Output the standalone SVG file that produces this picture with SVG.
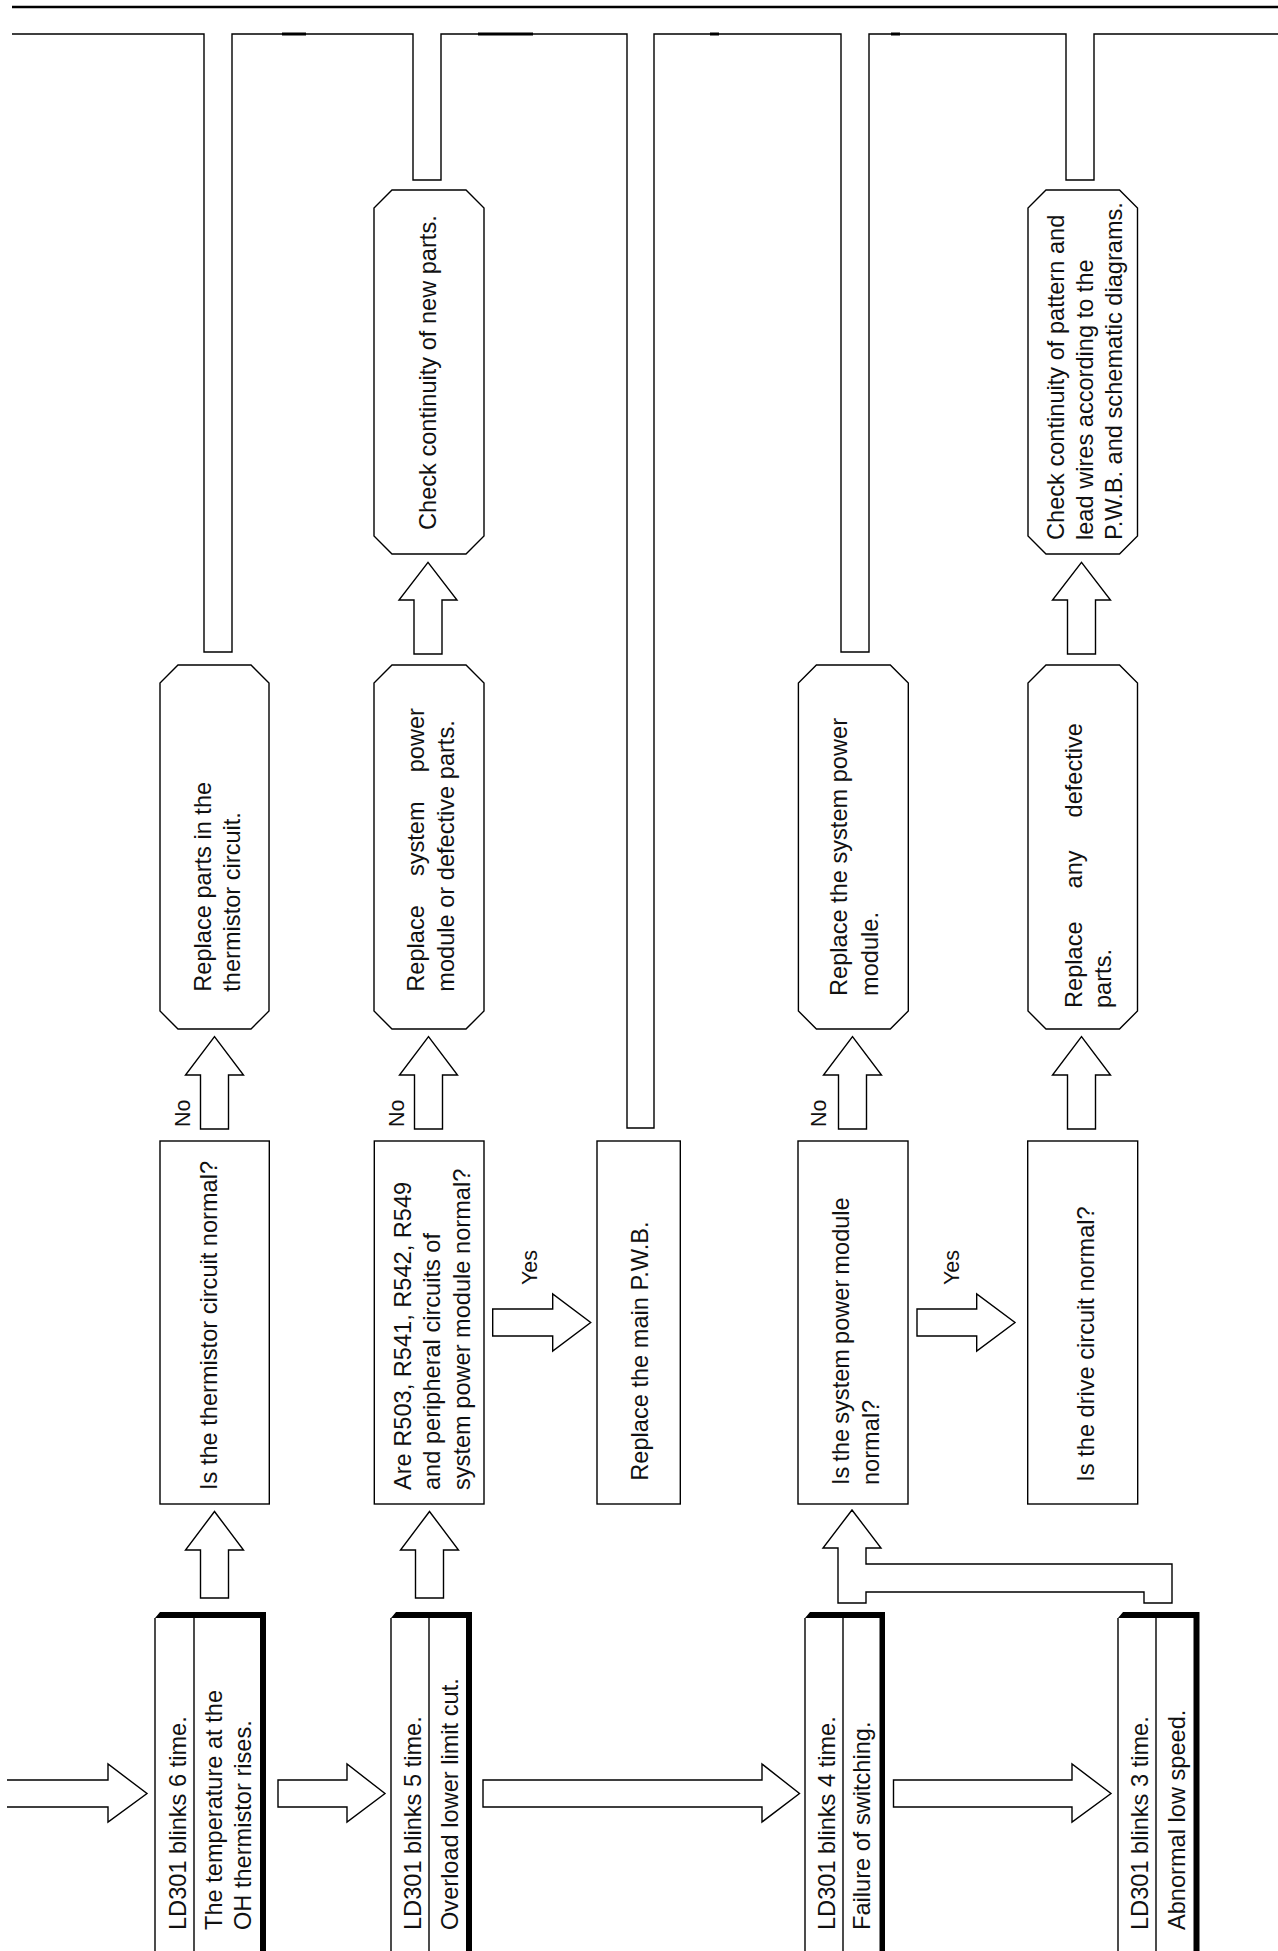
<svg xmlns="http://www.w3.org/2000/svg" width="1278" height="1951" viewBox="0 0 1278 1951">
<style>
  .ln { fill: none; stroke: #000; stroke-width: 1.4; stroke-linejoin: miter; }
  .bx { fill: #fff; stroke: #000; stroke-width: 1.4; }
  .thk { fill: #000; stroke: none; }
  .t { font-family: "Liberation Sans", Arial, sans-serif; font-size: 23.6px; fill: #111; }
  .lb { font-family: "Liberation Sans", Arial, sans-serif; font-size: 21.5px; fill: #111; }
</style>
<rect x="0" y="0" width="1278" height="1951" fill="#fff"/>

<!-- top rule -->
<line x1="12" y1="7" x2="1278" y2="7" stroke="#000" stroke-width="2.4"/>

<g id="connectors">
  <!-- return pipe network -->
  <path class="ln" d="M12,34 H204 V652 H232 V34 H413 V180 H441 V34 H627 V1128 H654 V34 H841 V652 H869 V34 H1066 V180 H1094 V34 H1278"/>
  <g stroke="#000" stroke-width="3">
    <line x1="282" y1="34" x2="306" y2="34"/>
    <line x1="478" y1="34" x2="533" y2="34"/>
    <line x1="710" y1="34" x2="719" y2="34"/>
    <line x1="891" y1="34" x2="900" y2="34"/>
  </g>
  <!-- horizontal arrows between LED nodes -->
  <path class="ln" d="M7,1780 H108 V1764 L147,1793.5 L108,1822 V1807 H7"/>
  <path class="bx" d="M278,1780 H347 V1764 L385,1793.5 L347,1822 V1807 H278 Z"/>
  <path class="bx" d="M483,1780 H762 V1764 L799.5,1793.5 L762,1822 V1807 H483 Z"/>
  <path class="bx" d="M893.5,1780 H1072 V1764 L1111,1793.5 L1072,1822 V1807 H893.5 Z"/>
  <!-- up arrows from LED nodes to questions -->
  <path class="bx" d="M200.5,1598 V1550 H185.5 L214.5,1511.5 L243.5,1550 H228.5 V1598 Z"/>
  <path class="bx" d="M415.5,1598 V1550 H400.5 L429.5,1511.5 L458.5,1550 H443.5 V1598 Z"/>
  <path class="bx" d="M838,1603 V1548 H823 L852,1510 L881,1548 H866 V1564 H1172 V1603 H1144 V1592 H866 V1603 Z"/>
  <!-- Yes arrows -->
  <path class="bx" d="M492.7,1309 H552.7 V1294 L590.7,1322.5 L552.7,1351 V1336 H492.7 Z"/>
  <path class="bx" d="M917,1309 H976.7 V1294 L1015,1322.5 L976.7,1351 V1336 H917 Z"/>
  <!-- No arrows -->
  <path class="bx" d="M200.5,1129 V1075 H185.5 L214.5,1036.7 L243.5,1075 H228.5 V1129 Z"/>
  <path class="bx" d="M414.5,1129 V1075 H399.5 L428.5,1036.7 L457.5,1075 H442.5 V1129 Z"/>
  <path class="bx" d="M838.5,1129 V1075 H823.5 L852.5,1036.7 L881.5,1075 H866.5 V1129 Z"/>
  <path class="bx" d="M1067.5,1129 V1075 H1052.5 L1081.5,1036.7 L1110.5,1075 H1095.5 V1129 Z"/>
  <!-- arrows to check continuity -->
  <path class="bx" d="M414,654 V600 H399 L428,562.3 L457,600 H442 V654 Z"/>
  <path class="bx" d="M1067.5,654 V600 H1052.5 L1081.5,562.3 L1110.5,600 H1095.5 V654 Z"/>
  <!-- labels -->
  <text class="lb" transform="translate(190,1127) rotate(-90)">No</text>
  <text class="lb" transform="translate(403.6,1127) rotate(-90)">No</text>
  <text class="lb" transform="translate(826,1127) rotate(-90)">No</text>
  <text class="lb" transform="translate(537,1285) rotate(-90)">Yes</text>
  <text class="lb" transform="translate(959,1285) rotate(-90)">Yes</text>
</g>

<!-- LED nodes -->
<g id="n-blink6">
  <path class="ln" d="M155,1618 V1960 M194,1618 V1960"/>
  <polygon class="thk" points="155,1618 160,1612 266,1612 266,1960 260,1960 260,1618"/>
  <text class="t" transform="translate(185.5,1930) rotate(-90)">LD301 blinks 6 time.</text>
  <text class="t" transform="translate(222.2,1930) rotate(-90)">The temperature at the</text>
  <text class="t" transform="translate(250.5,1930) rotate(-90)">OH thermistor rises.</text>
</g>
<g id="n-blink5">
  <path class="ln" d="M391,1618 V1960 M429,1618 V1960"/>
  <polygon class="thk" points="391,1618 396,1612 472,1612 472,1960 466,1960 466,1618"/>
  <text class="t" transform="translate(420.5,1930) rotate(-90)">LD301 blinks 5 time.</text>
  <text class="t" transform="translate(458.2,1930) rotate(-90)">Overload lower limit cut.</text>
</g>
<g id="n-blink4">
  <path class="ln" d="M805,1618 V1960 M843,1618 V1960"/>
  <polygon class="thk" points="805,1618 810,1612 885,1612 885,1960 879.5,1960 879.5,1618"/>
  <text class="t" transform="translate(835.2,1930) rotate(-90)">LD301 blinks 4 time.</text>
  <text class="t" transform="translate(870.2,1930) rotate(-90)">Failure of switching.</text>
</g>
<g id="n-blink3">
  <path class="ln" d="M1118,1618 V1960 M1156,1618 V1960"/>
  <polygon class="thk" points="1118,1618 1123,1612 1199.5,1612 1199.5,1960 1193.5,1960 1193.5,1618"/>
  <text class="t" transform="translate(1147.7,1930) rotate(-90)">LD301 blinks 3 time.</text>
  <text class="t" transform="translate(1185.2,1930) rotate(-90)">Abnormal low speed.</text>
</g>

<!-- question / process boxes -->
<g id="q-thermistor">
  <rect class="bx" x="160" y="1141" width="109.3" height="363"/>
  <text class="t" transform="translate(217.2,1490) rotate(-90)">Is the thermistor circuit normal?</text>
</g>
<g id="q-r503">
  <rect class="bx" x="374.3" y="1141" width="109.7" height="363"/>
  <text class="t" transform="translate(410.5,1490) rotate(-90)">Are R503, R541, R542, R549</text>
  <text class="t" transform="translate(440,1490) rotate(-90)">and peripheral circuits of</text>
  <text class="t" transform="translate(469.5,1490) rotate(-90)">system power module normal?</text>
</g>
<g id="p-main-pwb">
  <rect class="bx" x="597" y="1141" width="83.3" height="363"/>
  <text class="t" transform="translate(648,1480.7) rotate(-90)">Replace the main P.W.B.</text>
</g>
<g id="q-power-module">
  <rect class="bx" x="798" y="1141" width="110" height="363"/>
  <text class="t" transform="translate(849,1485) rotate(-90)" word-spacing="-1.5">Is the system power module</text>
  <text class="t" transform="translate(879,1485) rotate(-90)">normal?</text>
</g>
<g id="q-drive">
  <rect class="bx" x="1027.7" y="1141" width="110" height="363"/>
  <text class="t" transform="translate(1094,1481.7) rotate(-90)">Is the drive circuit normal?</text>
</g>

<!-- octagon action boxes -->
<g id="a-thermistor">
  <polygon class="bx" points="178,665 251,665 269,683 269,1011 251,1029 178,1029 160,1011 160,683"/>
  <text class="t" transform="translate(211,991.7) rotate(-90)">Replace parts in the</text>
  <text class="t" transform="translate(239.5,991.7) rotate(-90)">thermistor circuit.</text>
</g>
<g id="a-sys-defective">
  <polygon class="bx" points="392,665 466,665 484,683 484,1011 466,1029 392,1029 374,1011 374,683"/>
  <text class="t" transform="translate(423.5,991.7) rotate(-90)" word-spacing="22.5">Replace system power</text>
  <text class="t" transform="translate(453.7,991.7) rotate(-90)">module or defective parts.</text>
</g>
<g id="a-sys-module">
  <polygon class="bx" points="816.4,665 890.3,665 908.3,683 908.3,1011 890.3,1029 816.4,1029 798.4,1011 798.4,683"/>
  <text class="t" transform="translate(846.5,996) rotate(-90)">Replace the system power</text>
  <text class="t" transform="translate(878,996) rotate(-90)">module.</text>
</g>
<g id="a-any-defective">
  <polygon class="bx" points="1046,665 1119.5,665 1137.5,683 1137.5,1011 1119.5,1029 1046,1029 1028,1011 1028,683"/>
  <text class="t" transform="translate(1082,1008) rotate(-90)" word-spacing="26.4">Replace any defective</text>
  <text class="t" transform="translate(1111,1008) rotate(-90)">parts.</text>
</g>
<g id="c-new-parts">
  <polygon class="bx" points="392,190 466,190 484,208 484,536 466,554 392,554 374,536 374,208"/>
  <text class="t" transform="translate(436,530) rotate(-90)">Check continuity of new parts.</text>
</g>
<g id="c-pattern">
  <polygon class="bx" points="1046,190 1119.5,190 1137.5,208 1137.5,536 1119.5,554 1046,554 1028,536 1028,208"/>
  <text class="t" transform="translate(1064,540) rotate(-90)">Check continuity of pattern and</text>
  <text class="t" transform="translate(1093,540) rotate(-90)">lead wires according to the</text>
  <text class="t" transform="translate(1121.5,540) rotate(-90)">P.W.B. and schematic diagrams.</text>
</g>
</svg>
